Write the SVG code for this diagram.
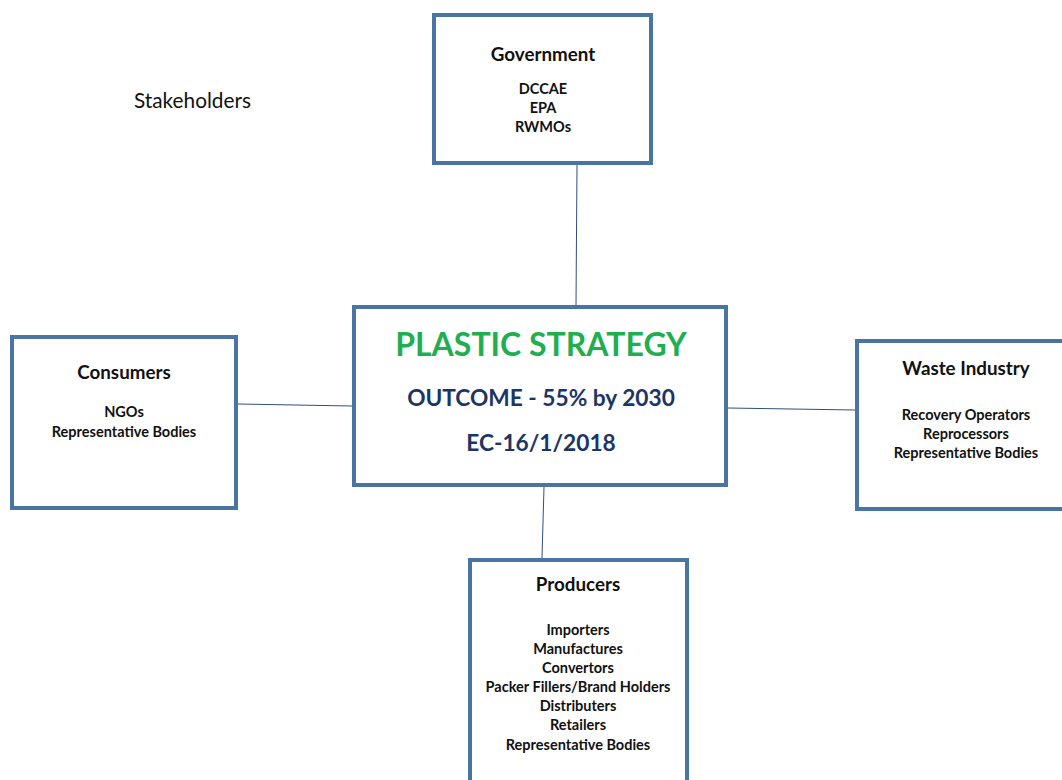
<svg xmlns="http://www.w3.org/2000/svg" width="1062" height="780" viewBox="0 0 1062 780">
<style>
.box{fill:#ffffff;stroke:#4a74a3;stroke-width:4}
.conn{stroke:#2f4f7a;stroke-width:1;fill:none}
text{font-family:Lato,"Open Sans","Liberation Sans",sans-serif;text-anchor:middle;fill:#111111}
.h{font-size:18.8px;font-weight:bold}
.i{font-size:14.5px;font-weight:bold}
.t1{font-size:32px;font-weight:bold;fill:#1fae50}
.t2{font-size:22.7px;font-weight:bold;fill:#1c3566}
</style>
<rect width="1062" height="780" fill="#ffffff"/>
<text x="192.5" y="108" style="font-size:20.8px">Stakeholders</text>
<g id="connectors">
<line class="conn" x1="577" y1="165" x2="576" y2="305"/>
<line class="conn" x1="238" y1="404" x2="352" y2="406"/>
<line class="conn" x1="728" y1="408" x2="855" y2="410"/>
<line class="conn" x1="544" y1="487" x2="542" y2="558"/>
</g>
<g id="government">
<rect class="box" x="434" y="15" width="217" height="148"/>
<text class="h" x="543" y="61">Government</text>
<text class="i" x="543" y="94">DCCAE</text>
<text class="i" x="543" y="113">EPA</text>
<text class="i" x="543" y="132">RWMOs</text>
</g>
<g id="plastic-strategy">
<rect class="box" x="354" y="307" width="372" height="178"/>
<text class="t1" x="541" y="356">PLASTIC STRATEGY</text>
<text class="t2" x="541" y="406">OUTCOME - 55% by 2030</text>
<text class="t2" x="541" y="451">EC-16/1/2018</text>
</g>
<g id="consumers">
<rect class="box" x="12" y="337" width="224" height="171"/>
<text class="h" x="124" y="379">Consumers</text>
<text class="i" x="124" y="417">NGOs</text>
<text class="i" x="124" y="437">Representative Bodies</text>
</g>
<g id="waste-industry">
<rect class="box" x="857" y="341" width="215" height="168"/>
<text class="h" x="966" y="375">Waste Industry</text>
<text class="i" x="966" y="420">Recovery Operators</text>
<text class="i" x="966" y="439">Reprocessors</text>
<text class="i" x="966" y="458">Representative Bodies</text>
</g>
<g id="producers">
<rect class="box" x="470" y="560" width="217" height="235"/>
<text class="h" x="578" y="591">Producers</text>
<text class="i" x="578" y="635">Importers</text>
<text class="i" x="578" y="654">Manufactures</text>
<text class="i" x="578" y="673">Convertors</text>
<text class="i" x="578" y="692">Packer Fillers/Brand Holders</text>
<text class="i" x="578" y="711">Distributers</text>
<text class="i" x="578" y="730">Retailers</text>
<text class="i" x="578" y="750">Representative Bodies</text>
</g>
</svg>
